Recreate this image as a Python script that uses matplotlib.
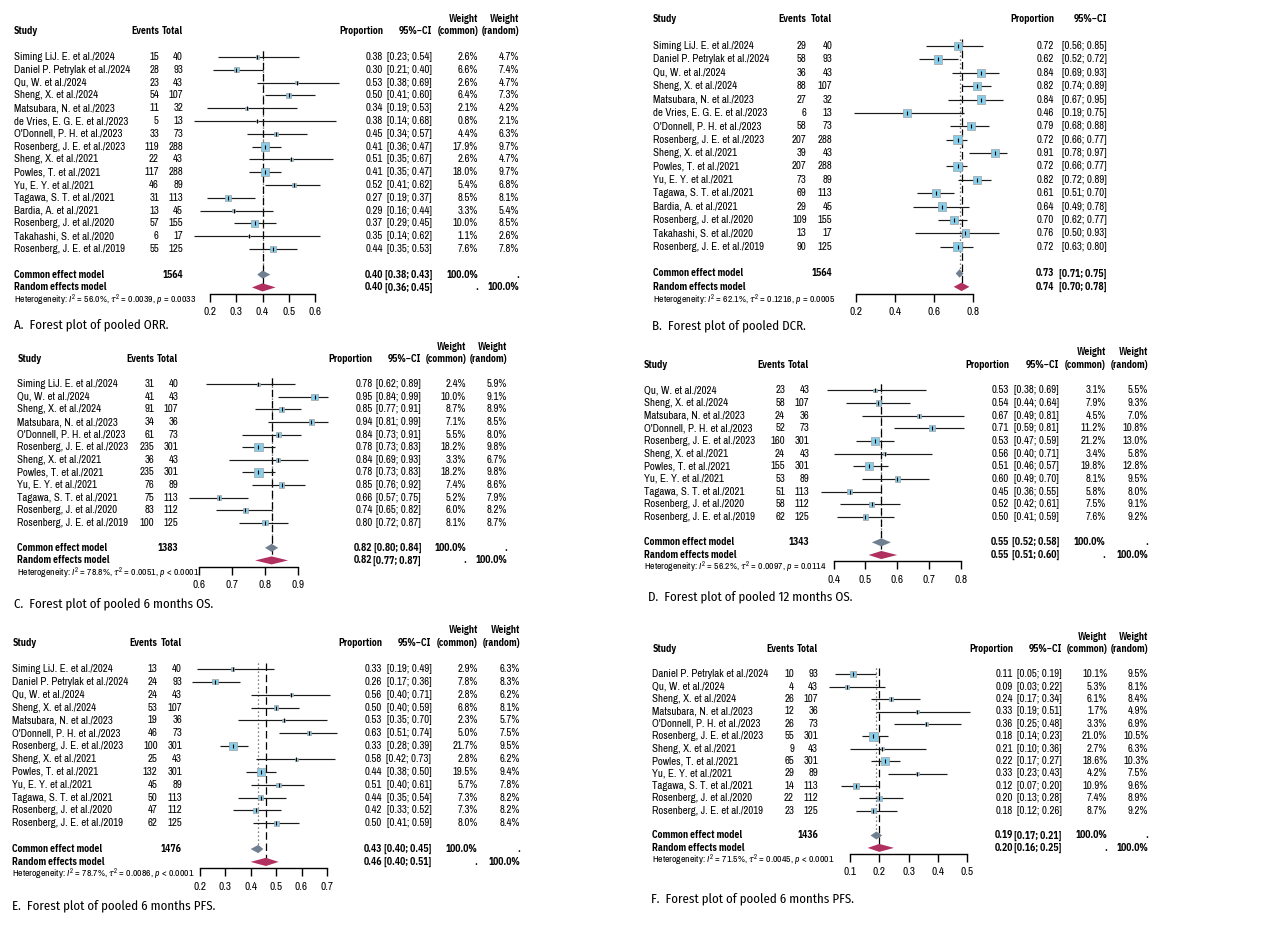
import matplotlib.pyplot as plt
from matplotlib import transforms

plt.rcParams['font.family'] = ['Archivo Narrow', 'Liberation Sans', 'DejaVu Sans']
plt.rcParams['mathtext.fontset'] = 'custom'
plt.rcParams['mathtext.rm'] = 'Archivo Narrow'
plt.rcParams['mathtext.it'] = 'Archivo Narrow:italic'
plt.rcParams['mathtext.fallback'] = 'stixsans'

W, H = 1268, 950
FS = 7.8      # table text, pt
FS_BOLD = 6.9
FS_HET = 7.0
FS_CAP = 9.3
BOLD_FAMILY = ['IBM Plex Sans Condensed', 'Fira Sans Condensed', 'Liberation Sans']

# ---------------- A. ORR
orr_study = ['Siming LiJ. E. et al./2024', 'Daniel P. Petrylak et al./2024', 'Qu, W. et al./2024',
             'Sheng, X. et al./2024', 'Matsubara, N. et al./2023', 'de Vries, E. G. E. et al./2023',
             "O'Donnell, P. H. et al./2023", 'Rosenberg, J. E. et al./2023', 'Sheng, X. et al./2021',
             'Powles, T. et al./2021', 'Yu, E. Y. et al./2021', 'Tagawa, S. T. et al./2021',
             'Bardia, A. et al./2021', 'Rosenberg, J. et al./2020', 'Takahashi, S. et al./2020',
             'Rosenberg, J. E. et al./2019']
orr_events = [15, 28, 23, 54, 11, 5, 33, 119, 22, 117, 46, 31, 13, 57, 6, 55]
orr_total = [40, 93, 43, 107, 32, 13, 73, 288, 43, 288, 89, 113, 45, 155, 17, 125]
orr_prop = [0.38, 0.30, 0.53, 0.50, 0.34, 0.38, 0.45, 0.41, 0.51, 0.41, 0.52, 0.27, 0.29, 0.37, 0.35, 0.44]
orr_lo = [0.23, 0.21, 0.38, 0.41, 0.19, 0.14, 0.34, 0.36, 0.35, 0.35, 0.41, 0.19, 0.16, 0.29, 0.14, 0.35]
orr_hi = [0.54, 0.40, 0.69, 0.60, 0.53, 0.68, 0.57, 0.47, 0.67, 0.47, 0.62, 0.37, 0.44, 0.45, 0.62, 0.53]
orr_wc = [2.6, 6.6, 2.6, 6.4, 2.1, 0.8, 4.4, 17.9, 2.6, 18.0, 5.4, 8.5, 3.3, 10.0, 1.1, 7.6]
orr_wr = [4.7, 7.4, 4.7, 7.3, 4.2, 2.1, 6.3, 9.7, 4.7, 9.7, 6.8, 8.1, 5.4, 8.5, 2.6, 7.8]
orr_pooled = [0.40, 0.38, 0.43, 0.40, 0.36, 0.45]
orr_n = 1564
orr_het = ['56.0%', '0.0039', '= 0.0033']
orr_ticks = [0.2, 0.3, 0.4, 0.5, 0.6]

# ---------------- B. DCR
dcr_study = orr_study
dcr_events = [29, 58, 36, 88, 27, 6, 58, 207, 39, 207, 73, 69, 29, 109, 13, 90]
dcr_total = [40, 93, 43, 107, 32, 13, 73, 288, 43, 288, 89, 113, 45, 155, 17, 125]
dcr_prop = [0.72, 0.62, 0.84, 0.82, 0.84, 0.46, 0.79, 0.72, 0.91, 0.72, 0.82, 0.61, 0.64, 0.70, 0.76, 0.72]
dcr_lo = [0.56, 0.52, 0.69, 0.74, 0.67, 0.19, 0.68, 0.66, 0.78, 0.66, 0.72, 0.51, 0.49, 0.62, 0.50, 0.63]
dcr_hi = [0.85, 0.72, 0.93, 0.89, 0.95, 0.75, 0.88, 0.77, 0.97, 0.77, 0.89, 0.70, 0.78, 0.77, 0.93, 0.80]
dcr_box = [15, 16, 15, 15, 15, 14, 15, 16, 15, 16, 15, 16, 15, 16, 14, 16]
dcr_pooled = [0.73, 0.71, 0.75, 0.74, 0.70, 0.78]
dcr_n = 1564
dcr_het = ['62.1%', '0.1216', '= 0.0005']
dcr_ticks = [0.2, 0.4, 0.6, 0.8]

# ---------------- C. 6 months OS
os6_study = ['Siming LiJ. E. et al./2024', 'Qu, W. et al./2024', 'Sheng, X. et al./2024',
             'Matsubara, N. et al./2023', "O'Donnell, P. H. et al./2023", 'Rosenberg, J. E. et al./2023',
             'Sheng, X. et al./2021', 'Powles, T. et al./2021', 'Yu, E. Y. et al./2021',
             'Tagawa, S. T. et al./2021', 'Rosenberg, J. et al./2020', 'Rosenberg, J. E. et al./2019']
os6_events = [31, 41, 91, 34, 61, 235, 36, 235, 76, 75, 83, 100]
os6_total = [40, 43, 107, 36, 73, 301, 43, 301, 89, 113, 112, 125]
os6_prop = [0.78, 0.95, 0.85, 0.94, 0.84, 0.78, 0.84, 0.78, 0.85, 0.66, 0.74, 0.80]
os6_lo = [0.62, 0.84, 0.77, 0.81, 0.73, 0.73, 0.69, 0.73, 0.76, 0.57, 0.65, 0.72]
os6_hi = [0.89, 0.99, 0.91, 0.99, 0.91, 0.83, 0.93, 0.83, 0.92, 0.75, 0.82, 0.87]
os6_wc = [2.4, 10.0, 8.7, 7.1, 5.5, 18.2, 3.3, 18.2, 7.4, 5.2, 6.0, 8.1]
os6_wr = [5.9, 9.1, 8.9, 8.5, 8.0, 9.8, 6.7, 9.8, 8.6, 7.9, 8.2, 8.7]
os6_pooled = [0.82, 0.80, 0.84, 0.82, 0.77, 0.87]
os6_n = 1383
os6_het = ['78.8%', '0.0051', '< 0.0001']
os6_ticks = [0.6, 0.7, 0.8, 0.9]

# ---------------- D. 12 months OS
os12_study = ['Qu, W. et al./2024', 'Sheng, X. et al./2024', 'Matsubara, N. et al./2023',
              "O'Donnell, P. H. et al./2023", 'Rosenberg, J. E. et al./2023', 'Sheng, X. et al./2021',
              'Powles, T. et al./2021', 'Yu, E. Y. et al./2021', 'Tagawa, S. T. et al./2021',
              'Rosenberg, J. et al./2020', 'Rosenberg, J. E. et al./2019']
os12_events = [23, 58, 24, 52, 160, 24, 155, 53, 51, 58, 62]
os12_total = [43, 107, 36, 73, 301, 43, 301, 89, 113, 112, 125]
os12_prop = [0.53, 0.54, 0.67, 0.71, 0.53, 0.56, 0.51, 0.60, 0.45, 0.52, 0.50]
os12_lo = [0.38, 0.44, 0.49, 0.59, 0.47, 0.40, 0.46, 0.49, 0.36, 0.42, 0.41]
os12_hi = [0.69, 0.64, 0.81, 0.81, 0.59, 0.71, 0.57, 0.70, 0.55, 0.61, 0.59]
os12_wc = [3.1, 7.9, 4.5, 11.2, 21.2, 3.4, 19.8, 8.1, 5.8, 7.5, 7.6]
os12_wr = [5.5, 9.3, 7.0, 10.8, 13.0, 5.8, 12.8, 9.5, 8.0, 9.1, 9.2]
os12_pooled = [0.55, 0.52, 0.58, 0.55, 0.51, 0.60]
os12_n = 1343
os12_het = ['56.2%', '0.0097', '= 0.0114']
os12_ticks = [0.4, 0.5, 0.6, 0.7, 0.8]

# ---------------- E. 6 months PFS
pfs_e_study = ['Siming LiJ. E. et al./2024', 'Daniel P. Petrylak et al./2024', 'Qu, W. et al./2024',
               'Sheng, X. et al./2024', 'Matsubara, N. et al./2023', "O'Donnell, P. H. et al./2023",
               'Rosenberg, J. E. et al./2023', 'Sheng, X. et al./2021', 'Powles, T. et al./2021',
               'Yu, E. Y. et al./2021', 'Tagawa, S. T. et al./2021', 'Rosenberg, J. et al./2020',
               'Rosenberg, J. E. et al./2019']
pfs_e_events = [13, 24, 24, 53, 19, 46, 100, 25, 132, 45, 50, 47, 62]
pfs_e_total = [40, 93, 43, 107, 36, 73, 301, 43, 301, 89, 113, 112, 125]
pfs_e_prop = [0.33, 0.26, 0.56, 0.50, 0.53, 0.63, 0.33, 0.58, 0.44, 0.51, 0.44, 0.42, 0.50]
pfs_e_lo = [0.19, 0.17, 0.40, 0.40, 0.35, 0.51, 0.28, 0.42, 0.38, 0.40, 0.35, 0.33, 0.41]
pfs_e_hi = [0.49, 0.36, 0.71, 0.59, 0.70, 0.74, 0.39, 0.73, 0.50, 0.61, 0.54, 0.52, 0.59]
pfs_e_wc = [2.9, 7.8, 2.8, 6.8, 2.3, 5.0, 21.7, 2.8, 19.5, 5.7, 7.3, 7.3, 8.0]
pfs_e_wr = [6.3, 8.3, 6.2, 8.1, 5.7, 7.5, 9.5, 6.2, 9.4, 7.8, 8.2, 8.2, 8.4]
pfs_e_pooled = [0.43, 0.40, 0.45, 0.46, 0.40, 0.51]
pfs_e_n = 1476
pfs_e_het = ['78.7%', '0.0086', '< 0.0001']
pfs_e_ticks = [0.2, 0.3, 0.4, 0.5, 0.6, 0.7]

# ---------------- F. 6 months PFS
pfs_f_study = ['Daniel P. Petrylak et al./2024', 'Qu, W. et al./2024', 'Sheng, X. et al./2024',
               'Matsubara, N. et al./2023', "O'Donnell, P. H. et al./2023", 'Rosenberg, J. E. et al./2023',
               'Sheng, X. et al./2021', 'Powles, T. et al./2021', 'Yu, E. Y. et al./2021',
               'Tagawa, S. T. et al./2021', 'Rosenberg, J. et al./2020', 'Rosenberg, J. E. et al./2019']
pfs_f_events = [10, 4, 26, 12, 26, 55, 9, 65, 29, 14, 22, 23]
pfs_f_total = [93, 43, 107, 36, 73, 301, 43, 301, 89, 113, 112, 125]
pfs_f_prop = [0.11, 0.09, 0.24, 0.33, 0.36, 0.18, 0.21, 0.22, 0.33, 0.12, 0.20, 0.18]
pfs_f_lo = [0.05, 0.03, 0.17, 0.19, 0.25, 0.14, 0.10, 0.17, 0.23, 0.07, 0.13, 0.12]
pfs_f_hi = [0.19, 0.22, 0.34, 0.51, 0.48, 0.23, 0.36, 0.27, 0.43, 0.20, 0.28, 0.26]
pfs_f_wc = [10.1, 5.3, 6.1, 1.7, 3.3, 21.0, 2.7, 18.6, 4.2, 10.9, 7.4, 8.7]
pfs_f_wr = [9.5, 8.1, 8.4, 4.9, 6.9, 10.5, 6.3, 10.3, 7.5, 9.6, 8.9, 9.2]
pfs_f_pooled = [0.19, 0.17, 0.21, 0.20, 0.16, 0.25]
pfs_f_n = 1436
pfs_f_het = ['71.5%', '0.0045', '< 0.0001']
pfs_f_ticks = [0.1, 0.2, 0.3, 0.4, 0.5]

captions = ['A.  Forest plot of pooled ORR.', 'B.  Forest plot of pooled DCR.',
            'C.  Forest plot of pooled 6 months OS.', 'D.  Forest plot of pooled 12 months OS.',
            'E.  Forest plot of pooled 6 months PFS.', 'F.  Forest plot of pooled 6 months PFS.']

# pixel layout of each panel (column right edges, first row, row step, axis ends, caption)
layouts = [
    dict(left=14, ev=159, tot=183, prop=383, ci=432, wc=478, wr=519, y0=57, step=12.8,
         ax_l=210, ax_r=315, cap=(14, 325)),
    dict(left=652.7, ev=806.7, tot=832.3, prop=1054, ci=1106.7, wc=None, wr=None, y0=46, step=13.38,
         ax_l=856, ax_r=973.3, cap=(652, 326)),
    dict(left=17.3, ev=154.3, tot=178.3, prop=372.7, ci=421, wc=466, wr=507.3, y0=384.3, step=12.58,
         ax_l=199, ax_r=298, cap=(14, 604)),
    dict(left=644, ev=785, tot=809.3, prop=1009.3, ci=1059, wc=1105.7, wr=1148, y0=390.3, step=12.67,
         ax_l=833.7, ax_r=960.7, cap=(648, 597)),
    dict(left=12.3, ev=157.7, tot=182, prop=382, ci=431.3, wc=477.7, wr=520, y0=669, step=12.86,
         ax_l=199.7, ax_r=327, cap=(12, 906)),
    dict(left=652.3, ev=794, tot=818, prop=1013.3, ci=1061.7, wc=1107.3, wr=1148.3, y0=674.3, step=12.4,
         ax_l=850, ax_r=967.3, cap=(651, 899)),
]


def draw_panel(fig, lay, study, events, total, prop, lo, hi, w_common, w_random, box,
               pooled, n_total, het, ticks, caption):
    n = len(study)
    step = lay['step']
    top = lay['y0'] - 3.5 * step
    bottom = lay['y0'] + (n + 2.5) * step
    ax = fig.add_axes([lay['ax_l'] / W, 1 - bottom / H,
                       (lay['ax_r'] - lay['ax_l']) / W, (bottom - top) / H])
    ax.set_xlim(ticks[0], ticks[-1])
    ax.set_ylim(n + 2.5, -3.5)
    ax.patch.set_visible(False)
    for side in ['left', 'right', 'top']:
        ax.spines[side].set_visible(False)
    ax.spines['bottom'].set_linewidth(1.0)
    ax.set_yticks([])
    ax.set_xticks(ticks)
    ax.set_xticklabels([f'{t:g}' for t in ticks])
    ax.tick_params(axis='x', direction='out', length=5.5, width=1.0, pad=4, labelsize=FS + 0.3)

    rows = list(range(n))
    c_est, c_lo, c_hi, r_est, r_lo, r_hi = pooled

    # reference lines for pooled estimates
    ax.plot([c_est, c_est], [-0.5, n + 1], color='#555555', lw=0.9, dashes=(1, 2.2), zorder=1)
    ax.plot([r_est, r_est], [-0.5, n + 2], color='black', lw=0.9, dashes=(6, 3), zorder=1)

    ax.hlines(rows, lo, hi, color='#1a1a1a', lw=0.85, zorder=2, clip_on=False)
    wmax = max(box)
    ax.scatter(prop, rows, s=[37 * w / wmax for w in box], marker='s', color='#87CEEB',
               edgecolor='#a0a0a0', linewidths=0.5, zorder=3, clip_on=False)
    ax.scatter(prop, rows, s=10, marker='|', color='black', linewidths=0.8, zorder=4, clip_on=False)

    h = 0.32
    ax.fill([c_lo, c_est, c_hi, c_est], [n + 1, n + 1 - h, n + 1, n + 1 + h],
            color='#708090', lw=0, zorder=5, clip_on=False)
    ax.fill([r_lo, r_est, r_hi, r_est], [n + 2, n + 2 - h, n + 2, n + 2 + h],
            color='#B03060', lw=0, zorder=5, clip_on=False)

    tr = transforms.blended_transform_factory(fig.transFigure, ax.transData)

    def put(x, y, s, ha='right', bold=False, size=FS):
        if bold:
            ax.text(x / W, y, s, transform=tr, ha=ha, va='center', fontsize=FS_BOLD,
                    fontweight='bold', family=BOLD_FAMILY, clip_on=False)
        else:
            ax.text(x / W, y, s, transform=tr, ha=ha, va='center', fontsize=size, clip_on=False)

    # header
    put(lay['left'], -2, 'Study', ha='left', bold=True)
    put(lay['ev'], -2, 'Events', bold=True)
    put(lay['tot'], -2, 'Total', bold=True)
    put(lay['prop'], -2, 'Proportion', bold=True)
    put(lay['ci'], -2, '95%\u2212CI', bold=True)
    if lay['wc'] is not None:
        put(lay['wc'], -3, 'Weight', bold=True)
        put(lay['wc'], -2, '(common)', bold=True)
        put(lay['wr'], -3, 'Weight', bold=True)
        put(lay['wr'], -2, '(random)', bold=True)

    for i in rows:
        put(lay['left'], i, study[i], ha='left')
        put(lay['ev'], i, str(events[i]))
        put(lay['tot'], i, str(total[i]))
        put(lay['prop'], i, f'{prop[i]:.2f}')
        put(lay['ci'], i, f'[{lo[i]:.2f}; {hi[i]:.2f}]')
        if lay['wc'] is not None:
            put(lay['wc'], i, f'{w_common[i]:.1f}%')
            put(lay['wr'], i, f'{w_random[i]:.1f}%')

    put(lay['left'], n + 1, 'Common effect model', ha='left', bold=True)
    put(lay['tot'], n + 1, str(n_total), bold=True)
    put(lay['prop'], n + 1, f'{c_est:.2f}', bold=True)
    put(lay['ci'], n + 1, f'[{c_lo:.2f}; {c_hi:.2f}]', bold=True)
    put(lay['left'], n + 2, 'Random effects model', ha='left', bold=True)
    put(lay['prop'], n + 2, f'{r_est:.2f}', bold=True)
    put(lay['ci'], n + 2, f'[{r_lo:.2f}; {r_hi:.2f}]', bold=True)
    if lay['wc'] is not None:
        put(lay['wc'], n + 1, '100.0%', bold=True)
        put(lay['wr'], n + 1, '.', bold=True)
        put(lay['wc'], n + 2, '.', bold=True)
        put(lay['wr'], n + 2, '100.0%', bold=True)

    i2, tau2, p = het
    put(lay['left'], n + 3, rf'Heterogeneity: $I^2$ = {i2}, $\tau^2$ = {tau2}, $p$ {p}',
        ha='left', size=FS_HET)

    cx, cy = lay['cap']
    fig.text(cx / W, 1 - cy / H, caption, ha='left', va='center', fontsize=FS_CAP,
             family=['Fira Sans Condensed', 'Liberation Sans'])


fig = plt.figure(figsize=(W / 100, H / 100), dpi=100)

draw_panel(fig, layouts[0], orr_study, orr_events, orr_total, orr_prop, orr_lo, orr_hi,
           orr_wc, orr_wr, orr_wc, orr_pooled, orr_n, orr_het, orr_ticks, captions[0])
draw_panel(fig, layouts[1], dcr_study, dcr_events, dcr_total, dcr_prop, dcr_lo, dcr_hi,
           None, None, dcr_box, dcr_pooled, dcr_n, dcr_het, dcr_ticks, captions[1])
draw_panel(fig, layouts[2], os6_study, os6_events, os6_total, os6_prop, os6_lo, os6_hi,
           os6_wc, os6_wr, os6_wc, os6_pooled, os6_n, os6_het, os6_ticks, captions[2])
draw_panel(fig, layouts[3], os12_study, os12_events, os12_total, os12_prop, os12_lo, os12_hi,
           os12_wc, os12_wr, os12_wc, os12_pooled, os12_n, os12_het, os12_ticks, captions[3])
draw_panel(fig, layouts[4], pfs_e_study, pfs_e_events, pfs_e_total, pfs_e_prop, pfs_e_lo, pfs_e_hi,
           pfs_e_wc, pfs_e_wr, pfs_e_wc, pfs_e_pooled, pfs_e_n, pfs_e_het, pfs_e_ticks, captions[4])
draw_panel(fig, layouts[5], pfs_f_study, pfs_f_events, pfs_f_total, pfs_f_prop, pfs_f_lo, pfs_f_hi,
           pfs_f_wc, pfs_f_wr, pfs_f_wc, pfs_f_pooled, pfs_f_n, pfs_f_het, pfs_f_ticks, captions[5])

fig.savefig('out.png', dpi=100)
